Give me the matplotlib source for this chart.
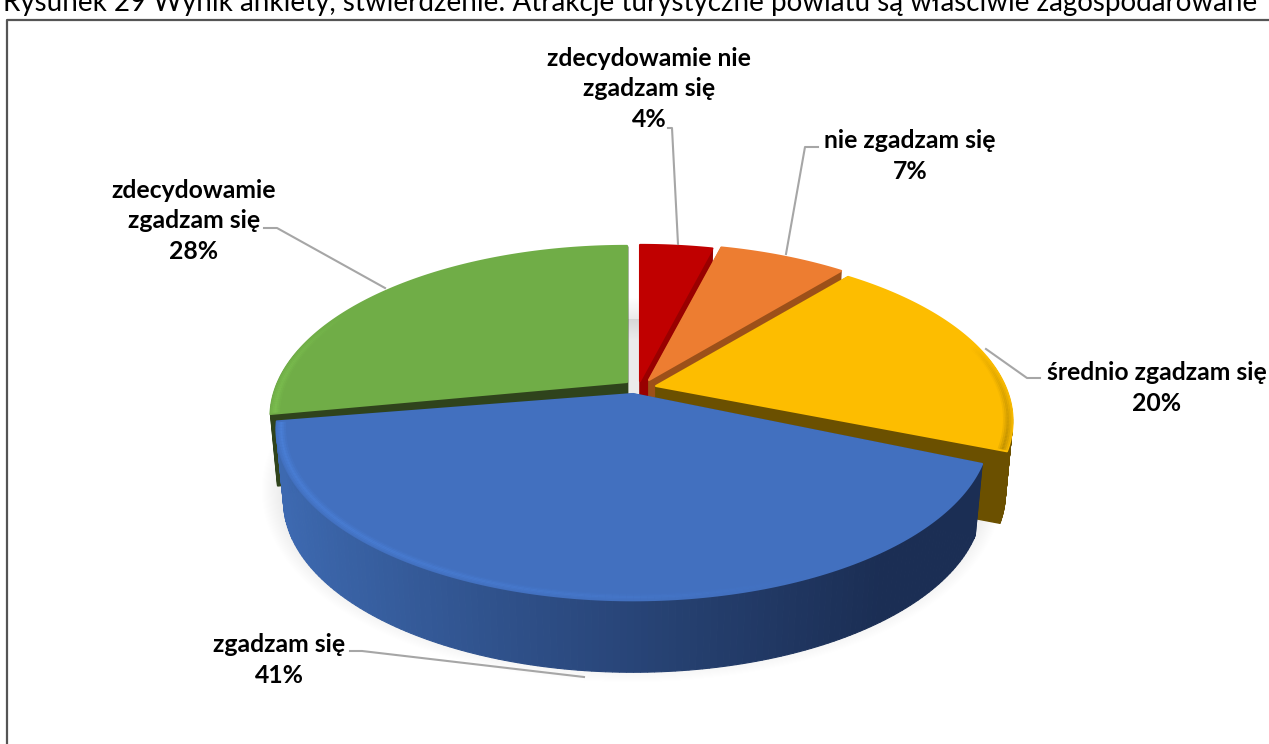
import numpy as np
import matplotlib
matplotlib.use("Agg")
import matplotlib.pyplot as plt
from matplotlib.collections import LineCollection
from matplotlib.colors import to_rgb

plt.rcParams['font.family'] = ['Lato', 'DejaVu Sans']

# data
title = "Rysunek 29 Wynik ankiety, stwierdzenie: Atrakcje turystyczne powiatu są właściwie zagospodarowane"
categories = ["zdecydowamie nie\nzgadzam się", "nie zgadzam się", "średnio zgadzam się", "zgadzam się", "zdecydowamie\nzgadzam się"]
values = [4, 7, 20, 41, 28]

# styles per slice
top_col = ["#c00000", "#ed7d31", "#fdbd00", "#4270bf", "#70ad47"]
side_col = ["#990000", "#9c5019", "#6b5000", "#1b2e54", "#2f431c"]
rim_col = ["#c00000", "#ed7d31", "#a87f00", "#4d85e0", "#7fc452"]
apex = [(640, 381), (649, 380), (656, 386), (633, 394), (627, 382)]
spin = [0, 0, 0, 1.5, 0]   # blue one sits a bit lower on the right
# rim highlight: angles where it is 0 and where it is full
rim_fade = [None, None, (75, 111.6), (150, 259.2), (300, 259.2)]

# pie shape in pixels
RX, RY, K = 349, 164, 0.205
DEPTH = 72
BOTTOM_X = 0.98


def project(theta, r=1.0):
    u = r * np.sin(theta)
    v = -r * np.cos(theta)
    d = 1 - K * v
    return RX * u / d, RY * v / d


def arc(i, a0, a1, r=1.0, n=160):
    t = np.radians(np.linspace(a0, a1, n)) + np.radians(spin[i])
    x, y = project(t, r)
    return apex[i][0] + x, apex[i][1] + y


def lower(x, y, i):
    return apex[i][0] + (x - apex[i][0]) * BOTTOM_X, y + DEPTH


fig = plt.figure(figsize=(12.69, 7.44), dpi=100)
ax = fig.add_axes([0, 0, 1, 1])
ax.set_xlim(0, 1269)
ax.set_ylim(744, 0)
ax.axis("off")

# frame + clipped caption
ax.plot([1269, 7, 7], [20, 20, 744], color="#555555", lw=1.6)
ax.text(3, 3, title, fontsize=20, color="black", va="center", ha="left", clip_on=True)

# angles from values
edges = np.cumsum([0] + values) / sum(values) * 360
starts, ends = edges[:-1], edges[1:]

# soft shadow
tx, ty = project(np.radians(np.linspace(0, 360, 300)))
for w in np.linspace(30, 1, 20):
    ax.fill(632 + tx * 0.98, 383 + ty + 72, fc="#000000", ec="#000000", alpha=0.005, lw=w, zorder=1)

for z, i in enumerate([4, 0, 1, 2, 3]):
    base = 2 + z * 2
    x, y = arc(i, starts[i], ends[i])
    ax0, ay0 = apex[i]

    # cut faces (extruded straight edges)
    for px, py in [(x[0], y[0]), (x[-1], y[-1])]:
        bx, by = lower(px, py, i)
        ax.fill([ax0, px, bx, ax0], [ay0, py, by, ay0 + DEPTH], fc=side_col[i], ec=side_col[i], lw=1, zorder=base)

    # outer wall, shaded from left to right on the blue slice
    xb, yb = lower(x, y, i)
    left, right = to_rgb("#3d69b0"), to_rgb(side_col[i])
    for j in range(len(x) - 1):
        if y[j] < ay0 - 30:
            continue
        if i == 3:
            f = np.clip((x[j] - 285) / 600, 0, 1) ** 0.9
            c = tuple(np.array(left) * (1 - f) + np.array(right) * f)
        else:
            c = side_col[i]
        ax.fill([x[j], x[j + 1], xb[j + 1], xb[j]], [y[j], y[j + 1], yb[j + 1], yb[j]], fc=c, ec=c, lw=0.8, zorder=base)

    # top surface
    ax.fill(np.r_[ax0, x], np.r_[ay0, y], fc=top_col[i], ec=top_col[i], lw=1.5, joinstyle="round", zorder=base + 1)

    # bevel along the rim, fading out along the arc
    if rim_fade[i] is None:
        continue
    a_off, a_full = rim_fade[i]
    angles = np.linspace(starts[i] + 0.3, ends[i] - 0.3, 160)
    fade = np.clip((angles - a_off) / (a_full - a_off), 0, 1)
    rgb = to_rgb(rim_col[i])
    for r, a in [(0.997, 0.25), (0.992, 0.5), (0.987, 0.7), (0.982, 0.45), (0.977, 0.2)]:
        rx, ry = arc(i, angles[0], angles[-1], r=r)
        pts = np.column_stack([rx, ry])
        segs = np.stack([pts[:-1], pts[1:]], axis=1)
        cols = [(*rgb, a * f) for f in fade[:-1]]
        ax.add_collection(LineCollection(segs, colors=cols, linewidths=1.5, zorder=base + 1))

# labels with leader lines
text_pos = [(649, 89), (910, 156), (1157, 388), (279, 660), (194, 221)]
leaders = [
    ([668, 672, 678], [128, 128, 244]),
    ([818, 805, 786], [147, 147, 254]),
    ([1040, 1027, 986], [378, 378, 349]),
    ([350, 362, 584], [651, 651, 677]),
    ([264, 277, 385], [228, 228, 288]),
]
for i in range(len(values)):
    ax.text(text_pos[i][0], text_pos[i][1], f"{categories[i]}\n{values[i]}%", fontsize=17.8, fontweight="bold",
            color="black", ha="center", va="center", linespacing=1.42, zorder=30)
    ax.plot(leaders[i][0], leaders[i][1], color="#a6a6a6", lw=1.5, zorder=20)

fig.savefig("out.png", dpi=100)
